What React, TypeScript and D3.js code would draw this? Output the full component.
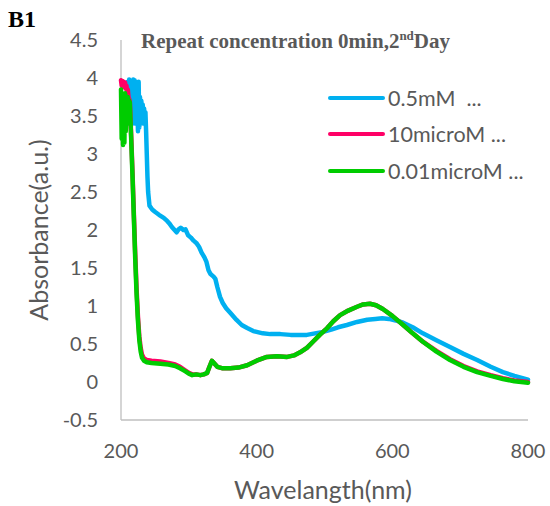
import React from 'react';
import * as d3 from 'd3';

// wavelength (nm), absorbance (a.u.)
const blue05mM: [number, number][] = [
  [209, 3.7], [210, 3.95], [211, 3.5], [212, 3.98], [213, 3.4], [214, 3.9], [215, 3.38], [216, 3.85],
  [217, 3.6], [218, 3.98], [219, 3.5], [220, 3.97], [221, 3.4], [222, 3.95], [223, 3.6], [224, 3.8],
  [225, 3.3], [226, 3.95], [227, 3.35], [228, 3.75], [229, 3.5], [230, 3.7], [231, 3.55], [232, 3.65],
  [233, 3.4], [234, 3.6], [235, 3.45], [236, 3.55], [237, 3.3], [238, 3.0], [239, 2.7], [240, 2.5],
  [242, 2.32], [246, 2.27], [250, 2.24], [256, 2.2], [263, 2.16], [268, 2.12], [271, 2.09], [275, 2.04],
  [279, 2.0], [282, 1.97], [285, 2.01], [288, 2.03], [292, 2.0], [295, 2.01], [299, 1.93], [303, 1.9],
  [307, 1.86], [311, 1.83], [315, 1.78], [319, 1.7], [323, 1.64], [326, 1.58], [329, 1.47], [332, 1.42],
  [336, 1.39], [339, 1.36], [342, 1.25], [346, 1.12], [350, 1.04], [355, 0.97], [361, 0.91], [370, 0.82],
  [378, 0.75], [386, 0.71], [395, 0.67], [409, 0.64], [420, 0.63], [435, 0.63], [450, 0.62], [465, 0.62],
  [474, 0.62], [486, 0.64], [498, 0.66], [510, 0.69], [520, 0.72], [533, 0.75], [548, 0.79], [563, 0.82],
  [575, 0.83], [585, 0.84], [595, 0.83], [605, 0.81], [616, 0.78], [630, 0.72], [645, 0.64], [665, 0.55],
  [685, 0.46], [705, 0.37], [725, 0.29], [745, 0.2], [763, 0.13], [780, 0.08], [800, 0.03],
];

const pink10microM: [number, number][] = [
  [200, 3.97], [201, 3.9], [202, 3.96], [203, 3.88], [204, 3.95], [205, 3.9], [206, 3.94], [207, 3.86],
  [208, 3.9], [209, 3.82], [210, 3.85], [211, 3.75], [212, 3.72], [213, 3.7], [215, 3.25], [217, 2.75],
  [219, 2.2], [221, 1.68], [223, 1.22], [225, 0.86], [227, 0.6], [229, 0.45], [231, 0.36], [234, 0.31],
  [238, 0.29], [245, 0.28], [258, 0.27], [270, 0.25], [280, 0.23], [287, 0.2], [295, 0.15], [300, 0.12],
  [305, 0.1], [311, 0.1], [317, 0.09], [322, 0.1], [327, 0.12], [330, 0.19], [334, 0.28], [338, 0.24],
  [342, 0.2], [350, 0.18], [361, 0.18], [373, 0.19], [386, 0.22], [400, 0.28], [415, 0.33], [430, 0.34],
  [445, 0.33], [455, 0.35], [464, 0.39], [474, 0.45], [483, 0.53], [493, 0.62], [504, 0.71], [513, 0.8],
  [523, 0.88], [535, 0.94], [548, 0.99], [557, 1.02], [567, 1.03], [576, 1.01], [586, 0.96], [600, 0.87],
  [616, 0.75], [630, 0.64], [645, 0.53], [665, 0.41], [685, 0.3], [705, 0.21], [725, 0.14], [745, 0.09],
  [763, 0.05], [780, 0.02], [800, 0.0],
];

const green001microM: [number, number][] = [
  [200, 3.85], [201, 3.2], [202, 3.8], [203, 3.12], [204, 3.75], [205, 3.15], [206, 3.8], [207, 3.3],
  [208, 3.7], [209, 3.4], [210, 3.75], [211, 3.55], [212, 3.7], [213, 3.68], [215, 3.2], [217, 2.7],
  [219, 2.15], [221, 1.61], [223, 1.15], [225, 0.8], [227, 0.55], [229, 0.4], [231, 0.32], [234, 0.28],
  [238, 0.26], [245, 0.25], [258, 0.24], [270, 0.23], [280, 0.21], [287, 0.18], [295, 0.14], [300, 0.11],
  [305, 0.09], [311, 0.1], [317, 0.09], [322, 0.1], [327, 0.12], [330, 0.19], [334, 0.28], [338, 0.24],
  [342, 0.2], [350, 0.18], [361, 0.18], [373, 0.19], [386, 0.22], [400, 0.28], [415, 0.33], [430, 0.34],
  [445, 0.33], [455, 0.35], [464, 0.39], [474, 0.45], [483, 0.53], [493, 0.62], [504, 0.71], [513, 0.8],
  [523, 0.88], [535, 0.94], [548, 0.99], [557, 1.02], [567, 1.03], [576, 1.01], [586, 0.96], [600, 0.87],
  [616, 0.75], [630, 0.64], [645, 0.53], [665, 0.4], [685, 0.29], [705, 0.2], [725, 0.13], [745, 0.08],
  [763, 0.04], [780, 0.01], [800, -0.01],
];

const seriesNames = ['0.5mM  ...', '10microM ...', '0.01microM ...'];
const xTicks = [200, 400, 600, 800];
const yTicks = [-0.5, 0, 0.5, 1, 1.5, 2, 2.5, 3, 3.5, 4, 4.5];

const colors = ['#00b0f0', '#ff0066', '#00cc00'];
const textColor = '#595959';
const axisColor = '#bfbfbf';
const sans = 'Lato, "Open Sans", sans-serif';
const serif = '"Liberation Serif", "Times New Roman", serif';

export default function App() {
  const width = 550;
  const height = 506;

  const x = d3.scaleLinear().domain([200, 800]).range([121, 528]);
  const y = d3.scaleLinear().domain([-0.5, 4.5]).range([420, 40]);

  const line = d3
    .line<[number, number]>()
    .x((d) => x(d[0]))
    .y((d) => y(d[1]));

  const series = [blue05mM, pink10microM, green001microM];

  return (
    <svg
      width={width}
      height={height}
      style={{ position: 'absolute', left: 0, top: 0, background: '#fff' }}
    >
      <text x={8} y={27} fontFamily={serif} fontWeight="bold" fontSize={24} fill="#000">
        B1
      </text>

      <text x={141} y={48} fontFamily={serif} fontWeight="bold" fontSize={21} fill={textColor}>
        Repeat concentration 0min,2
        <tspan fontSize={13} dy={-8}>nd</tspan>
        <tspan dy={8}>Day</tspan>
      </text>

      {/* axes */}
      <line x1={x(200)} x2={x(200)} y1={y(4.5)} y2={y(-0.5)} stroke={axisColor} strokeWidth={1.3} />
      <line x1={x(200)} x2={x(800)} y1={y(-0.5)} y2={y(-0.5)} stroke={axisColor} strokeWidth={1.3} />

      {yTicks.map((t) => (
        <text
          key={t}
          x={98}
          y={y(t)}
          dy="0.35em"
          textAnchor="end"
          fontFamily={sans}
          fontSize={20}
          fill={textColor}
        >
          {t}
        </text>
      ))}
      {xTicks.map((t) => (
        <text
          key={t}
          x={x(t)}
          y={458}
          textAnchor="middle"
          fontFamily={sans}
          fontSize={20}
          fill={textColor}
        >
          {t}
        </text>
      ))}

      <text
        transform={`translate(48, ${y(2)}) rotate(-90)`}
        textAnchor="middle"
        fontFamily={sans}
        fontSize={25}
        fill={textColor}
      >
        Absorbance(a.u.)
      </text>
      <text x={323} y={499} textAnchor="middle" fontFamily={sans} fontSize={25} fill={textColor}>
        Wavelangth(nm)
      </text>

      {series.map((s, i) => (
        <path
          key={i}
          d={line(s) || ''}
          fill="none"
          stroke={colors[i]}
          strokeWidth={4.5}
          strokeLinejoin="round"
          strokeLinecap="round"
        />
      ))}

      {/* legend */}
      {seriesNames.map((name, i) => {
        const ly = [98, 134, 171][i];
        return (
          <g key={name}>
            <line x1={330} x2={383} y1={ly} y2={ly} stroke={colors[i]} strokeWidth={4} strokeLinecap="round" />
            <text
              x={388}
              y={ly}
              dy="0.35em"
              fontFamily={sans}
              fontSize={21.5}
              fill={textColor}
              style={{ whiteSpace: 'pre' }}
            >
              {name}
            </text>
          </g>
        );
      })}
    </svg>
  );
}
